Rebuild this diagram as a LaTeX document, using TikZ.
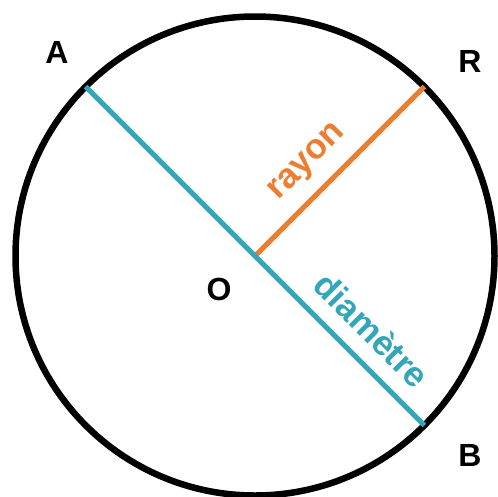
\documentclass[tikz,border=0pt]{standalone}
\usepackage{fontspec}
\setmainfont{Liberation Sans}
\usetikzlibrary{calc}
\definecolor{teal1}{RGB}{52,166,186}
\definecolor{orange1}{RGB}{237,125,49}
\begin{document}
\begin{tikzpicture}[x=1pt,y=-1pt,
  lbl/.style={font=\fontsize{32}{36}\selectfont\bfseries, inner sep=0pt},
  word/.style={font=\fontsize{35}{40}\selectfont\bfseries, inner sep=0pt}]
\useasboundingbox (0,0) rectangle (498,496);
\coordinate (O) at (255,256);
\coordinate (A) at ($(O)+(-169.4,-169.4)$);
\coordinate (B) at ($(O)+(169.4,169.4)$);
\coordinate (R) at ($(O)+(169.4,-169.4)$);
\draw[line width=6.5pt] (O) circle (239.5);
\draw[orange1, line width=5pt] (O) -- (R);
\draw[teal1, line width=5pt] (A) -- (B);
\node[lbl] (lA) at (57,52) {A};
\node[lbl] (lR) at (470,61) {R};
\node[lbl] (lB) at (470,455) {B};
\node[lbl] (lO) at (219,289) {O};
\node[word, text=orange1, rotate=45] (ray) at (308,163) {rayon};
\node[word, text=teal1, rotate=-45] (dia) at (372,330) {diamètre};
\end{tikzpicture}
\end{document}
